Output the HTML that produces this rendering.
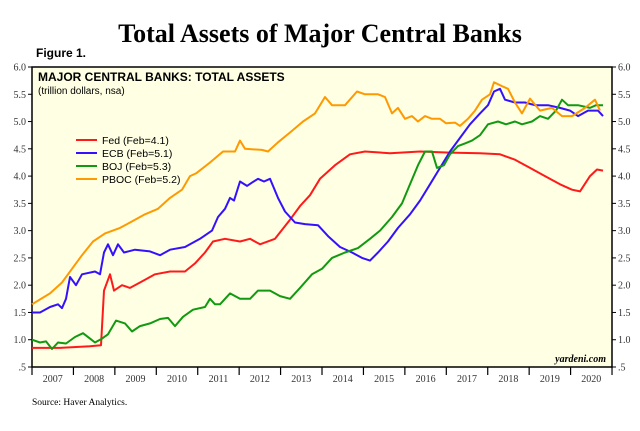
<!DOCTYPE html>
<html><head><meta charset="utf-8"><style>
body{margin:0;background:#fff;width:640px;height:431px;overflow:hidden}
svg{display:block}
</style></head><body>
<svg id="s" width="640" height="431" xmlns="http://www.w3.org/2000/svg" font-family="Liberation Serif, serif">
<text x="320" y="42" text-anchor="middle" font-size="26" font-weight="bold">Total Assets of Major Central Banks</text>
<text x="36" y="57" font-family="Liberation Sans, sans-serif" font-size="12" font-weight="bold">Figure 1.</text>
<rect x="32" y="67" width="580" height="300" fill="#ffffe3" stroke="#000" stroke-width="1.5"/>
<text x="38" y="81" font-family="Liberation Sans, sans-serif" font-size="12" font-weight="bold">MAJOR CENTRAL BANKS: TOTAL ASSETS</text>
<text x="38" y="94" font-family="Liberation Sans, sans-serif" font-size="10">(trillion dollars, nsa)</text>
<g id="ax" font-size="10" fill="#333"></g>
<g id="lines" fill="none" stroke-width="2" stroke-linejoin="round"></g>
<g font-family="Liberation Sans, sans-serif" font-size="10.5">
<line x1="76" y1="140" x2="97" y2="140" stroke="#ff1a1a" stroke-width="2"/><text x="102" y="144">Fed (Feb=4.1)</text>
<line x1="76" y1="153" x2="97" y2="153" stroke="#3311ff" stroke-width="2"/><text x="102" y="157">ECB (Feb=5.1)</text>
<line x1="76" y1="166" x2="97" y2="166" stroke="#119911" stroke-width="2"/><text x="102" y="170">BOJ (Feb=5.3)</text>
<line x1="76" y1="179" x2="97" y2="179" stroke="#ff9900" stroke-width="2"/><text x="102" y="183">PBOC (Feb=5.2)</text>
</g>
<text x="606" y="362" text-anchor="end" font-size="10" font-style="italic" font-weight="bold">yardeni.com</text>
<text x="32" y="405" font-size="9.5">Source: Haver Analytics.</text>
</svg>
<script>
var ax=document.getElementById('ax'),L=document.getElementById('lines'),NS='http://www.w3.org/2000/svg';
function Y(v){return 367-(v-0.5)*54.545;}
var h='';
for(var i=0;i<=11;i++){var v=0.5+i*0.5,y=Y(v),t=(v==0.5?'.5':v.toFixed(1));
h+='<line x1="28" x2="32" y1="'+y+'" y2="'+y+'" stroke="#000"/><line x1="612" x2="616" y1="'+y+'" y2="'+y+'" stroke="#000"/>';
h+='<text x="26" y="'+(y+3.5)+'" text-anchor="end">'+t+'</text><text x="618" y="'+(y+3.5)+'">'+t+'</text>';}
for(var k=0;k<=14;k++){var x=32+k*41.43;h+='<line x1="'+x+'" x2="'+x+'" y1="367" y2="375" stroke="#000" stroke-width="1.2"/>';
if(k<14)h+='<text x="'+(x+20.7)+'" y="382" text-anchor="middle">'+(2007+k)+'</text>';}
ax.innerHTML=h;
var S={
'#ff1a1a':[[32,.85],[60,.85],[90,.88],[101,.9],[104,1.9],[110,2.2],[114,1.9],[122,2.0],[130,1.95],[140,2.05],[155,2.2],[170,2.25],[185,2.25],[195,2.4],[205,2.6],[213,2.8],[225,2.85],[240,2.8],[250,2.85],[260,2.75],[275,2.85],[290,3.2],[300,3.45],[310,3.65],[320,3.95],[335,4.2],[350,4.4],[365,4.45],[390,4.42],[420,4.45],[450,4.43],[480,4.42],[500,4.4],[515,4.3],[530,4.15],[545,4.0],[560,3.85],[572,3.75],[580,3.72],[590,4.0],[597,4.12],[603,4.1]],
'#3311ff':[[32,1.5],[40,1.5],[50,1.6],[58,1.65],[62,1.58],[66,1.75],[70,2.15],[76,2.0],[82,2.2],[95,2.25],[100,2.2],[104,2.6],[108,2.75],[113,2.55],[118,2.75],[124,2.6],[135,2.65],[150,2.62],[160,2.55],[170,2.65],[185,2.7],[200,2.85],[212,3.0],[218,3.25],[225,3.4],[230,3.6],[234,3.55],[240,3.9],[247,3.82],[252,3.88],[258,3.95],[264,3.9],[270,3.95],[278,3.6],[285,3.35],[295,3.15],[305,3.12],[318,3.1],[328,2.9],[340,2.7],[352,2.6],[362,2.5],[370,2.45],[378,2.6],[388,2.8],[398,3.05],[410,3.3],[420,3.55],[430,3.85],[440,4.15],[450,4.45],[460,4.7],[470,4.95],[480,5.15],[488,5.3],[494,5.55],[500,5.6],[505,5.4],[515,5.35],[525,5.35],[535,5.3],[548,5.3],[560,5.25],[570,5.2],[578,5.1],[588,5.2],[598,5.2],[603,5.1]],
'#119911':[[32,1.0],[40,.95],[46,.97],[52,.83],[58,.95],[66,.93],[75,1.05],[83,1.12],[90,1.02],[95,.95],[102,1.02],[108,1.1],[116,1.35],[125,1.3],[132,1.15],[140,1.25],[150,1.3],[160,1.38],[168,1.4],[175,1.25],[183,1.42],[193,1.55],[205,1.6],[210,1.75],[215,1.65],[220,1.65],[230,1.85],[240,1.75],[250,1.75],[258,1.9],[270,1.9],[280,1.8],[290,1.75],[300,1.95],[312,2.2],[322,2.3],[332,2.5],[345,2.6],[358,2.68],[370,2.85],[380,3.0],[392,3.25],[402,3.5],[410,3.85],[418,4.2],[425,4.45],[432,4.45],[437,4.15],[444,4.2],[450,4.4],[458,4.55],[465,4.6],[472,4.65],[480,4.75],[488,4.95],[498,5.0],[506,4.95],[515,5.0],[522,4.95],[532,5.0],[540,5.1],[548,5.05],[556,5.2],[562,5.4],[568,5.3],[578,5.3],[590,5.25],[596,5.3],[603,5.3]],
'#ff9900':[[32,1.65],[50,1.85],[62,2.05],[72,2.3],[82,2.55],[93,2.8],[105,2.95],[120,3.05],[130,3.15],[145,3.3],[158,3.4],[170,3.6],[182,3.75],[190,4.0],[196,4.05],[210,4.25],[223,4.45],[235,4.45],[240,4.65],[245,4.5],[262,4.48],[268,4.45],[278,4.62],[290,4.8],[303,5.0],[315,5.15],[325,5.45],[332,5.3],[345,5.3],[357,5.55],[365,5.5],[378,5.5],[385,5.45],[392,5.15],[398,5.25],[405,5.05],[412,5.1],[418,5.0],[425,5.1],[432,5.05],[440,5.05],[446,4.97],[455,4.98],[460,4.92],[468,5.05],[475,5.2],[482,5.4],[490,5.5],[494,5.72],[502,5.65],[508,5.6],[515,5.35],[522,5.15],[530,5.42],[540,5.2],[552,5.25],[562,5.1],[572,5.1],[585,5.25],[595,5.4],[600,5.2]]};
for(var c in S){var p=document.createElementNS(NS,'polyline');p.setAttribute('stroke',c);
p.setAttribute('points',S[c].map(function(q){return q[0]+','+Y(q[1]).toFixed(1)}).join(' '));L.appendChild(p);}
</script>
</body></html>
